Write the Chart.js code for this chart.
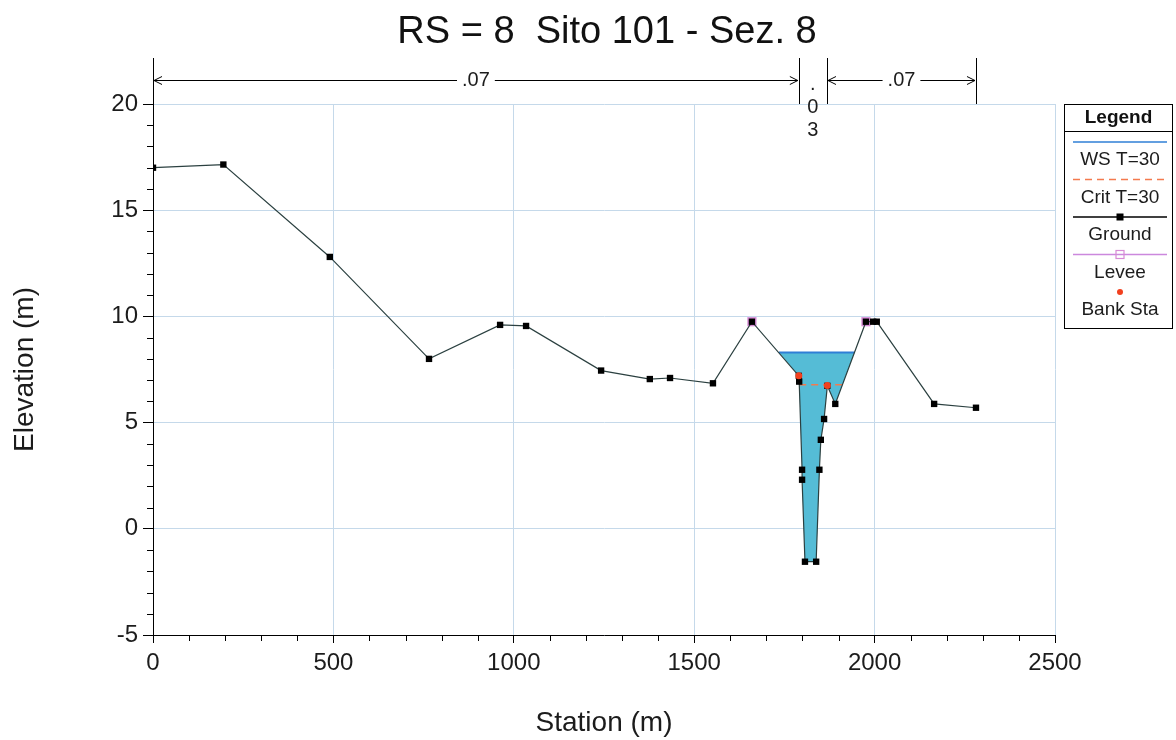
<!DOCTYPE html>
<html>
<head>
<meta charset="utf-8">
<script src="https://cdn.jsdelivr.net/npm/chart.js@4"></script>
<style>
html, body { margin: 0; padding: 0; background: #fff; }
</style>
</head>
<body>
<canvas id="xsChart" width="1176" height="740"></canvas>
<script>
// section data (station m / elevation m)
const chartTitle = 'RS = 8  Sito 101 - Sez. 8';
const xTitle = 'Station (m)';
const yTitle = 'Elevation (m)';

const groundX = [0, 195, 490, 765, 962, 1034, 1242, 1377, 1433, 1552, 1660, 1790, 1791, 1799, 1799, 1807, 1838, 1847, 1851, 1860, 1869, 1891, 1976, 1996, 2006, 2165, 2281];
const groundY = [17.0, 17.15, 12.8, 8.0, 9.6, 9.55, 7.45, 7.05, 7.1, 6.85, 9.75, 7.2, 6.93, 2.78, 2.31, -1.55, -1.55, 2.78, 4.19, 5.17, 6.73, 5.88, 9.75, 9.75, 9.75, 5.88, 5.7];

const leveeX = [1660, 1976];
const leveeY = [9.75, 9.75];

const bankX = [1790, 1869];
const bankY = [7.2, 6.75];

const wsX = [1735, 1944];
const wsElev = 8.3;

const critX = [1791, 1911];
const critElev = 6.78;

// manning n zones along the top
const nBounds = [0, 1790, 1868, 2281];
const nValues = ['.07', '.03', '.07'];

const xMajor = [0, 500, 1000, 1500, 2000, 2500];
const yMajor = [-5, 0, 5, 10, 15, 20];
const xMinorStep = 100;
const yMinorStep = 1;

const legendLabels = ['WS T=30', 'Crit T=30', 'Ground', 'Levee', 'Bank Sta'];

const gridColor = '#c5d9ea';
const textColor = '#1c1c1c';
const tickFont = "'Liberation Sans Narrow', 'Liberation Sans', Arial, sans-serif";
const mainFont = "'Liberation Sans', Arial, sans-serif";

const pts = (xs, ys) => xs.map((x, i) => ({ x: x, y: ys[i] }));
const groundPts = pts(groundX, groundY);
// water polygon: WS edges + ground inside the channel
const waterPts = [{ x: wsX[0], y: wsElev }]
    .concat(groundPts.filter(p => p.x > wsX[0] && p.x < wsX[1]))
    .concat([{ x: wsX[1], y: wsElev }]);

const decorPlugin = {
    id: 'decor',
    afterDraw(chart) {
        const ctx = chart.ctx;
        const xs = chart.scales.x;
        const ys = chart.scales.y;
        const area = chart.chartArea;
        ctx.save();

        // titolo
        ctx.fillStyle = '#111';
        ctx.font = '38px ' + mainFont;
        ctx.textAlign = 'center';
        ctx.textBaseline = 'middle';
        ctx.fillText(chartTitle, 607, 33);

        // minor ticks
        ctx.strokeStyle = '#000';
        ctx.lineWidth = 1;
        ctx.beginPath();
        for (let v = xs.min + xMinorStep; v < xs.max; v += xMinorStep) {
            if (v % 500 === 0) continue;
            const px = Math.round(xs.getPixelForValue(v)) + 0.5;
            ctx.moveTo(px, area.bottom);
            ctx.lineTo(px, area.bottom + 6);
        }
        for (let v = ys.min + yMinorStep; v < ys.max; v += yMinorStep) {
            if (v % 5 === 0) continue;
            const py = Math.round(ys.getPixelForValue(v)) + 0.5;
            ctx.moveTo(area.left - 6, py);
            ctx.lineTo(area.left, py);
        }
        ctx.stroke();

        // n values bar
        const barTop = 58, lineY = 80.5;
        ctx.beginPath();
        nBounds.forEach(b => {
            const px = Math.round(xs.getPixelForValue(b)) + 0.5;
            ctx.moveTo(px, barTop);
            ctx.lineTo(px, area.top);
        });
        ctx.stroke();
        ctx.font = '20px ' + mainFont;
        ctx.fillStyle = textColor;
        for (let i = 0; i < nValues.length; i++) {
            const a = xs.getPixelForValue(nBounds[i]) + 1;
            const b = xs.getPixelForValue(nBounds[i + 1]) - 1;
            const mid = (a + b) / 2;
            const tw = ctx.measureText(nValues[i]).width;
            if (b - a > tw + 40) {
                ctx.beginPath();
                ctx.moveTo(a, lineY); ctx.lineTo(mid - tw / 2 - 5, lineY);
                ctx.moveTo(mid + tw / 2 + 5, lineY); ctx.lineTo(b, lineY);
                ctx.moveTo(a + 8, lineY - 4); ctx.lineTo(a, lineY); ctx.lineTo(a + 8, lineY + 4);
                ctx.moveTo(b - 8, lineY - 4); ctx.lineTo(b, lineY); ctx.lineTo(b - 8, lineY + 4);
                ctx.stroke();
                ctx.fillText(nValues[i], mid, lineY);
            } else {
                // too narrow: stacked characters
                nValues[i].split('').forEach((ch, k) => {
                    ctx.fillText(ch, mid, 84 + k * 23);
                });
            }
        }

        // legenda
        const lx = 1064.5, ly = 104.5, lw = 108, lh = 224;
        ctx.strokeStyle = '#000';
        ctx.lineWidth = 1;
        ctx.strokeRect(lx, ly, lw, lh);
        ctx.beginPath();
        ctx.moveTo(lx, 131.5); ctx.lineTo(lx + lw, 131.5);
        ctx.stroke();
        ctx.font = 'bold 19px ' + mainFont;
        ctx.fillStyle = '#111';
        ctx.fillText('Legend', lx + lw / 2, 118);

        const x0 = 1073, x1 = 1167, cx = (x0 + x1) / 2;
        ctx.font = '19px ' + mainFont;
        legendLabels.forEach((label, i) => {
            const sy = 142 + i * 37.5;
            const ds = chart.data.datasets.find(d => d.label === label);
            ctx.save();
            if (label === 'Bank Sta') {
                ctx.fillStyle = ds.pointBackgroundColor;
                ctx.beginPath();
                ctx.arc(cx, sy, 3, 0, Math.PI * 2);
                ctx.fill();
            } else {
                ctx.strokeStyle = ds.legendLine || ds.borderColor;
                ctx.lineWidth = 1.5;
                if (ds.borderDash) ctx.setLineDash(ds.borderDash);
                ctx.beginPath();
                ctx.moveTo(x0, sy); ctx.lineTo(x1, sy);
                ctx.stroke();
                ctx.setLineDash([]);
                if (label === 'Ground') {
                    ctx.fillStyle = '#000';
                    ctx.fillRect(cx - 3.5, sy - 3.5, 7, 7);
                }
                if (label === 'Levee') {
                    ctx.strokeStyle = ds.pointBackgroundColor;
                    ctx.lineWidth = 1.2;
                    ctx.strokeRect(cx - 4, sy - 4, 8, 8);
                }
            }
            ctx.restore();
            ctx.fillStyle = textColor;
            ctx.fillText(label, cx, sy + 18);
        });

        ctx.restore();
    }
};

new Chart(document.getElementById('xsChart'), {
    type: 'scatter',
    data: {
        datasets: [
            {
                label: 'Bank Sta',
                data: pts(bankX, bankY),
                showLine: false,
                pointStyle: 'circle',
                pointRadius: 3.5,
                pointBackgroundColor: '#f2401e',
                pointBorderWidth: 0,
                order: 0
            },
            {
                label: 'Ground',
                data: groundPts,
                showLine: true,
                borderColor: '#2b4040',
                borderWidth: 1.2,
                legendLine: '#000',
                pointStyle: 'rect',
                pointRadius: 4.5,
                pointBackgroundColor: '#000',
                pointBorderWidth: 0,
                order: 1
            },
            {
                label: 'Levee',
                data: pts(leveeX, leveeY),
                showLine: false,
                borderColor: '#cc88dd',
                pointStyle: 'rect',
                pointRadius: 6.5,
                pointBackgroundColor: '#d78ad6',
                pointBorderWidth: 0,
                order: 2
            },
            {
                label: 'Crit T=30',
                data: pts(critX, critX.map(() => critElev)),
                showLine: true,
                borderColor: '#f47a4e',
                borderWidth: 1.5,
                borderDash: [7, 5],
                pointRadius: 0,
                order: 3
            },
            {
                label: 'WS T=30',
                data: pts(wsX, wsX.map(() => wsElev)),
                showLine: true,
                borderColor: '#2f7fd6',
                borderWidth: 2,
                pointRadius: 0,
                order: 4
            },
            {
                label: 'water',
                data: waterPts,
                showLine: true,
                borderWidth: 0,
                pointRadius: 0,
                backgroundColor: '#55bcd6',
                fill: { target: { value: wsElev } },
                order: 5
            }
        ]
    },
    options: {
        responsive: false,
        devicePixelRatio: 1,
        animation: false,
        layout: { padding: { top: 104, right: 121, left: 0, bottom: 0 } },
        plugins: {
            legend: { display: false },
            tooltip: { enabled: false },
            title: { display: false }
        },
        scales: {
            x: {
                type: 'linear',
                min: 0,
                max: 2500,
                afterBuildTicks: axis => { axis.ticks = xMajor.map(v => ({ value: v })); },
                afterFit: axis => { axis.height = 105; },
                grid: { color: gridColor, tickColor: '#000', tickLength: 8, lineWidth: 1 },
                border: { color: '#000', width: 1 },
                ticks: {
                    color: textColor,
                    padding: 6,
                    maxRotation: 0,
                    font: { family: tickFont, size: 24 },
                    callback: value => String(value)
                },
                title: {
                    display: true,
                    text: xTitle,
                    color: textColor,
                    padding: { top: 0, bottom: 0 },
                    font: { family: mainFont, size: 28 }
                }
            },
            y: {
                type: 'linear',
                min: -5,
                max: 20,
                afterBuildTicks: axis => { axis.ticks = yMajor.map(v => ({ value: v })); },
                afterFit: axis => { axis.width = 153; },
                grid: { color: gridColor, tickColor: '#000', tickLength: 10, lineWidth: 1 },
                border: { color: '#000', width: 1 },
                ticks: {
                    color: textColor,
                    padding: 5,
                    font: { family: tickFont, size: 24 },
                    callback: value => String(value)
                },
                title: {
                    display: true,
                    text: yTitle,
                    color: textColor,
                    padding: { top: 8, bottom: 0 },
                    font: { family: mainFont, size: 28 }
                }
            }
        }
    },
    plugins: [decorPlugin]
});
</script>
</body>
</html>
